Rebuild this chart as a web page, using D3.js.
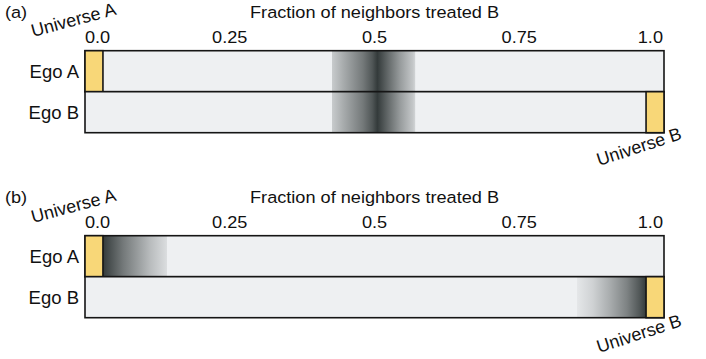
<!DOCTYPE html>
<html><head><meta charset="utf-8">
<script src="https://cdn.jsdelivr.net/npm/d3@7"></script>
<style>body{margin:0;background:#fff}svg{display:block}text{font-family:"Liberation Sans",Arial,Helvetica,sans-serif;fill:#111}</style>
</head><body>
<svg id="c" width="706" height="359"></svg>
<script>
// ---- data ----
const tickValues = [0, 0.25, 0.5, 0.75, 1.0];
const tickLabels = ["0.0", "0.25", "0.5", "0.75", "1.0"];
const egos = ["Ego A", "Ego B"];
const panels = ["(a)", "(b)"];
const axisTitle = "Fraction of neighbors treated B";
const universeLabels = ["Universe A", "Universe B"];
const universeWidth = 0.031;          // width of yellow universe box (fraction)
const universeStart = [0, 1 - 0.031]; // Ego A -> Universe A at 0, Ego B -> Universe B at 1
// density stops [fraction, intensity]
const densityA_egoA = [[0.426,0],[0.427,0.2],[0.446,0.36],[0.48,0.63],[0.496,0.81],[0.505,0.96],[0.523,0.72],[0.544,0.45],[0.566,0.22],[0.570,0.15],[0.571,0]];
const densityA_egoB = [[0.426,0],[0.427,0.2],[0.446,0.36],[0.48,0.63],[0.496,0.81],[0.505,0.96],[0.523,0.72],[0.544,0.45],[0.566,0.22],[0.570,0.15],[0.571,0]];
const densityB_egoA = [[0.031,0.96],[0.048,0.8],[0.066,0.63],[0.09,0.45],[0.112,0.28],[0.135,0.14],[0.141,0.1],[0.142,0]];
const densityB_egoB = [[0.849,0],[0.850,0.05],[0.877,0.16],[0.907,0.36],[0.936,0.58],[0.958,0.81],[0.969,0.96]];

const densities = [[densityA_egoA, densityA_egoB],[densityB_egoA, densityB_egoB]];

// ---- layout ----
const svg = d3.select("#c");
const x = d3.scaleLinear().domain([0, 1]).range([85, 664]);
const barH = 41;
const panelTop = [50.7, 235.7];
const sx = 1.1;  // horizontal text stretch
const fs = 16.5;
const uniPosA = [[33, 37], [33, 223]];
const uniPosB = [[599, 166], [599, 353]];

function txt(g, s, px, py, anchor, rot, size, stretch) {
  const t = g.append("text").text(s).attr("font-size", size || fs)
    .attr("text-anchor", anchor || "start")
    .attr("transform", `translate(${px},${py}) scale(${stretch || sx},1)` + (rot ? ` rotate(${rot})` : ""));
  return t;
}

const defs = svg.append("defs");
const y0 = d3.scaleBand().domain(egos).paddingInner(0);

panels.forEach((p, pi) => {
  const g = svg.append("g");
  const top = panelTop[pi];
  y0.range([top, top + 2 * barH]);
  // panel label & title
  txt(g, p, 5, top - 32.5, "start");
  txt(g, axisTitle, x(0.5), top - 32.5, "middle");
  // tick labels
  tickValues.forEach((v, i) => {
    const anchor = i === 0 ? "start" : (i === tickValues.length - 1 ? "end" : "middle");
    txt(g, tickLabels[i], x(v) + (i === 0 ? 0 : (i === tickValues.length - 1 ? -1 : 0)), top - 7.5, anchor);
  });
  egos.forEach((e, ei) => {
    const by = y0(e);
    // background bar
    g.append("rect").attr("x", x(0)).attr("y", by).attr("width", x(1) - x(0)).attr("height", y0.bandwidth())
      .attr("fill", "#eef0f2");
    // density gradient
    const stops = densities[pi][ei];
    const id = `grad${pi}${ei}`;
    const lg = defs.append("linearGradient").attr("id", id)
      .attr("gradientUnits", "userSpaceOnUse").attr("x1", x(0)).attr("x2", x(1)).attr("y1", 0).attr("y2", 0);
    lg.append("stop").attr("offset", 0).attr("stop-color", "#2c3333").attr("stop-opacity", stops[0][0] <= universeWidth + 0.001 ? stops[0][1] : 0);
    stops.forEach(s => lg.append("stop").attr("offset", s[0]).attr("stop-color", "#2c3333").attr("stop-opacity", s[1]));
    lg.append("stop").attr("offset", 1).attr("stop-color", "#2c3333").attr("stop-opacity", stops[stops.length-1][1]);
    g.append("rect").attr("x", x(0)).attr("y", by).attr("width", x(1) - x(0)).attr("height", y0.bandwidth())
      .attr("fill", `url(#${id})`);
    // outline
    g.append("rect").attr("x", x(0)).attr("y", by).attr("width", x(1) - x(0)).attr("height", y0.bandwidth())
      .attr("fill", "none").attr("stroke", "#151515").attr("stroke-width", 1.6);
    // universe box
    const us = universeStart[ei];
    g.append("rect").attr("x", x(us)).attr("y", by).attr("width", x(us + universeWidth) - x(us)).attr("height", y0.bandwidth())
      .attr("fill", "#f8d778").attr("stroke", "#151515").attr("stroke-width", 1.6);
    // ego label
    txt(g, e, 79, by + y0.bandwidth() / 2 + 6.7, "end", 0, 18.5, 1);
  });
  txt(g, universeLabels[0], uniPosA[pi][0], uniPosA[pi][1], "start", -15, 18, 1);
  txt(g, universeLabels[1], uniPosB[pi][0], uniPosB[pi][1], "start", -18, 18, 1);
});
</script>
</body></html>
